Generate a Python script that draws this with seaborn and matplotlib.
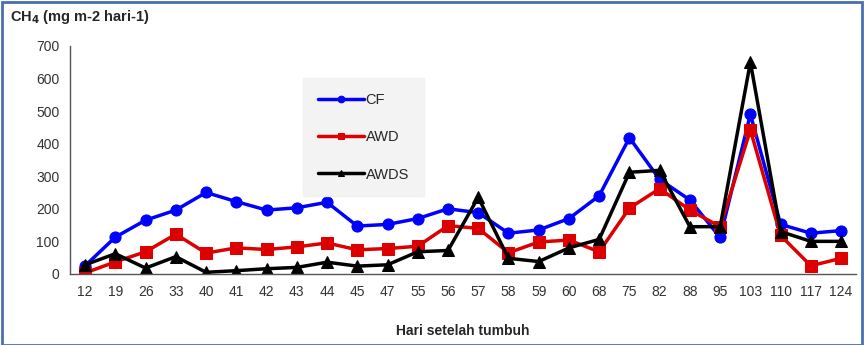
import numpy as np
import pandas as pd
import matplotlib
matplotlib.use("Agg")
import matplotlib.pyplot as plt
import seaborn as sns

# data
days = ["12", "19", "26", "33", "40", "41", "42", "43", "44", "45", "47", "55", "56",
        "57", "58", "59", "60", "68", "75", "82", "88", "95", "103", "110", "117", "124"]
cf = [25, 113, 165, 196, 250, 222, 196, 203, 220, 147, 152, 170, 200,
      188, 125, 135, 170, 240, 418, 290, 227, 112, 490, 152, 125, 133]
awd = [3, 37, 68, 122, 64, 80, 75, 83, 95, 74, 78, 85, 148,
       140, 65, 98, 104, 68, 202, 262, 196, 145, 442, 118, 25, 48]
awds = [28, 62, 18, 53, 5, 10, 16, 20, 36, 24, 28, 68, 72,
        235, 48, 38, 80, 106, 312, 318, 145, 145, 650, 130, 100, 100]

sns.set_style("white")
plt.rcParams['font.family'] = ['Liberation Sans', 'DejaVu Sans']

fig = plt.figure(figsize=(8.64, 3.45), dpi=100)
ax = fig.add_axes([0.081, 0.206, 0.91, 0.661])

pos = np.arange(len(days))
series = [("CF", cf, "#0000ff", "o"), ("AWD", awd, "#dd0000", "s"), ("AWDS", awds, "#000000", "^")]
for name, vals, col, mk in series:
    sns.lineplot(x=pos, y=vals, ax=ax, color=col, marker=mk, markersize=8,
                 markeredgecolor=col, linewidth=2.5, label=name, sort=False)

ax.set_xlim(-0.5, len(days) - 0.5)
ax.set_ylim(0, 700)
ax.set_yticks(range(0, 701, 100))
ax.set_xticks(pos)
ax.set_xticklabels(days)
ax.set_xticks(np.arange(-0.5, len(days), 1), minor=True)
ax.tick_params(axis='x', which='major', length=0, labelsize=10, pad=8, colors='#333333')
ax.tick_params(axis='x', which='minor', length=4, direction='out', color='#555555')
ax.tick_params(axis='y', length=4, direction='out', labelsize=10, colors='#333333')
for s in ["top", "right"]:
    ax.spines[s].set_visible(False)
for s in ["left", "bottom"]:
    ax.spines[s].set_color("#555555")
    ax.spines[s].set_linewidth(1.0)

ax.set_xlabel("Hari setelah tumbuh", fontsize=10, fontweight='bold', labelpad=18)
fig.text(0.012, 0.94, r"CH$_\mathbf{4}$ (mg m-2 hari-1)", fontsize=10.5, fontweight='bold')

leg = ax.legend(loc="upper left", bbox_to_anchor=(0.287, 0.89), frameon=True,
                fontsize=10.5, labelspacing=1.6, handlelength=3.2, handletextpad=0.1,
                borderpad=1.0, markerscale=0.6)
leg.get_frame().set_facecolor("#f0f0f0")
leg.get_frame().set_edgecolor("#f0f0f0")
leg.get_frame().set_boxstyle("square", pad=0)

# figure border like the source screenshot
fig.patches.append(plt.Rectangle((0.002, 0.0), 0.996, 0.994, transform=fig.transFigure,
                                 fill=False, edgecolor="#4a6fb0", linewidth=2))

fig.savefig("out.png", dpi=100)
